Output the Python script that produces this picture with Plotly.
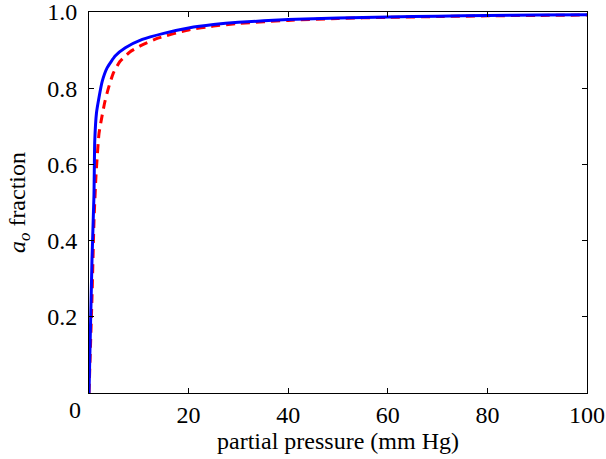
import plotly.graph_objects as go

# partial pressure (mm Hg)
x_blue = [0, 0.6, 1.0, 1.15, 1.5, 2.0, 2.65, 3.66, 5.3, 7.3, 10.7, 15, 20, 25, 30, 40, 50, 60, 70, 80, 90, 100]
y_blue = [0, 0.35, 0.52, 0.66, 0.735, 0.775, 0.818, 0.854, 0.885, 0.906, 0.928, 0.944,
          0.958, 0.967, 0.973, 0.980, 0.984, 0.987, 0.989, 0.991, 0.992, 0.993]

x_red = [0, 0.6, 1.0, 1.4, 2.0, 2.66, 3.2, 3.9, 4.9, 6.2, 8.2, 10.6, 14, 20, 25, 30, 40, 50, 60, 70, 80, 90, 100]
y_red = [0, 0.25, 0.45, 0.57, 0.68, 0.73, 0.765, 0.80, 0.84, 0.87, 0.895, 0.913, 0.932,
         0.953, 0.963, 0.970, 0.978, 0.983, 0.986, 0.988, 0.990, 0.991, 0.992]

x_ticks = [20, 40, 60, 80, 100]
y_ticks = [0.2, 0.4, 0.6, 0.8, 1.0]
y_tick_text = ["0.2", "0.4", "0.6", "0.8", "1.0"]

font_family = "Liberation Serif, Times New Roman, serif"
FS = 24

fig = go.Figure()
fig.add_trace(go.Scatter(x=x_red, y=y_red, mode="lines",
                         line=dict(color="#ff0000", width=3, dash="9px,6px", shape="spline", smoothing=0.5),
                         showlegend=False))
fig.add_trace(go.Scatter(x=x_blue, y=y_blue, mode="lines",
                         line=dict(color="#0000ff", width=3, shape="spline", smoothing=0.5),
                         showlegend=False))

axis_common = dict(showline=True, linecolor="black", linewidth=1, mirror="ticks",
                   ticks="inside", ticklen=5, tickcolor="black", showgrid=False,
                   zeroline=False, automargin=False, ticklabeloverflow="allow",
                   tickfont=dict(family=font_family, size=FS, color="black"))

fig.update_xaxes(range=[0, 100], tickvals=x_ticks, ticktext=[str(v) for v in x_ticks],
                 title=dict(text="partial pressure (mm Hg)", font=dict(family=font_family, size=FS, color="black"),
                            standoff=0),
                 ticklabelstandoff=0, **axis_common)
fig.update_yaxes(range=[0, 1], tickvals=y_ticks, ticktext=y_tick_text,
                 title=dict(text="<i>a<sub>o</sub></i> fraction", font=dict(family=font_family, size=FS, color="black"),
                            standoff=14),
                 ticklabelstandoff=6, **axis_common)

fig.add_annotation(x=0, y=0, xref="x", yref="y", text="0", showarrow=False,
                   xanchor="center", yanchor="top", xshift=-14, yshift=-2,
                   font=dict(family=font_family, size=FS, color="black"))

fig.update_layout(width=606, height=459, margin=dict(l=89, r=19, t=12, b=66),
                  paper_bgcolor="white", plot_bgcolor="white")

fig.write_html("out.html", config={"displayModeBar": False},
               post_script="document.body.style.margin='0';")
